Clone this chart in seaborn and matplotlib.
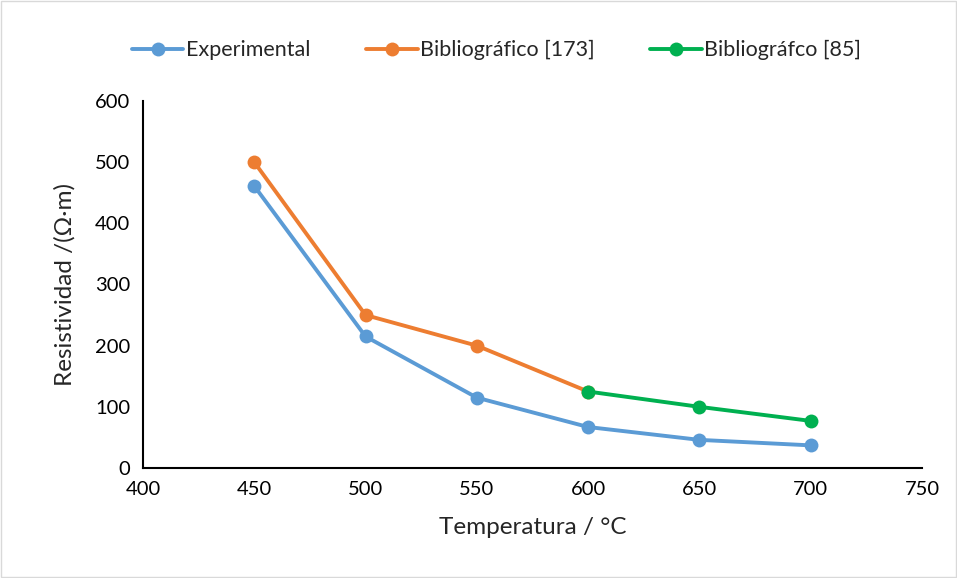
import matplotlib
matplotlib.use("Agg")
import matplotlib.pyplot as plt
import seaborn as sns
import pandas as pd
from matplotlib.patches import Rectangle

temp_exp = [450, 500, 550, 600, 650, 700]
res_exp = [461, 215, 115, 67, 46, 37]
temp_b173 = [450, 500, 550, 600]
res_b173 = [500, 250, 200, 125]
temp_b85 = [600, 650, 700]
res_b85 = [125, 100, 77]

series_names = ["Experimental", "Bibliográfico [173]", "Bibliográfco [85]"]
colors = ["#5B9BD5", "#ED7D31", "#00B050"]

sns.set_theme(style="white")
plt.rcParams['font.family'] = ['Lato', 'DejaVu Sans']

fig = plt.figure(figsize=(9.57, 5.78), dpi=100)
ax = fig.add_axes([0.1494, 0.1903, 0.814, 0.635])

for (x, y), name, c in zip([(temp_exp, res_exp), (temp_b173, res_b173), (temp_b85, res_b85)],
                           series_names, colors):
    df = pd.DataFrame({"T": x, "R": y})
    sns.lineplot(data=df, x="T", y="R", ax=ax, color=c, linewidth=2.8,
                 marker="o", markersize=10, markeredgewidth=0, label=name)

ax.set_xlim(400, 750)
ax.set_ylim(0, 600)
ax.set_xticks(range(400, 751, 50))
ax.set_yticks(range(0, 601, 100))
ax.tick_params(axis='both', labelsize=14.5, length=0, colors="#000000", pad=9)
ax.set_xlabel("Temperatura / °C", fontsize=17.5, labelpad=14)
ax.set_ylabel("Resistividad /(Ω·m)", fontsize=17.5, labelpad=14)
for s in ["top", "right"]:
    ax.spines[s].set_visible(False)
for s in ["left", "bottom"]:
    ax.spines[s].set_color("#000000")
    ax.spines[s].set_linewidth(1.5)

leg = ax.legend(loc="center", ncol=3, frameon=False, fontsize=15.5,
                handlelength=2.4, handletextpad=0.1, columnspacing=2.6)
leg.set_bbox_to_anchor((0.5 + 18 / 957, 1 - 50 / 578), transform=fig.transFigure)

fig.patches.append(Rectangle((0.001, 0.001), 0.998, 0.998, transform=fig.transFigure,
                             fill=False, edgecolor="#D9D9D9", linewidth=1))

fig.savefig("out.png", dpi=100)
